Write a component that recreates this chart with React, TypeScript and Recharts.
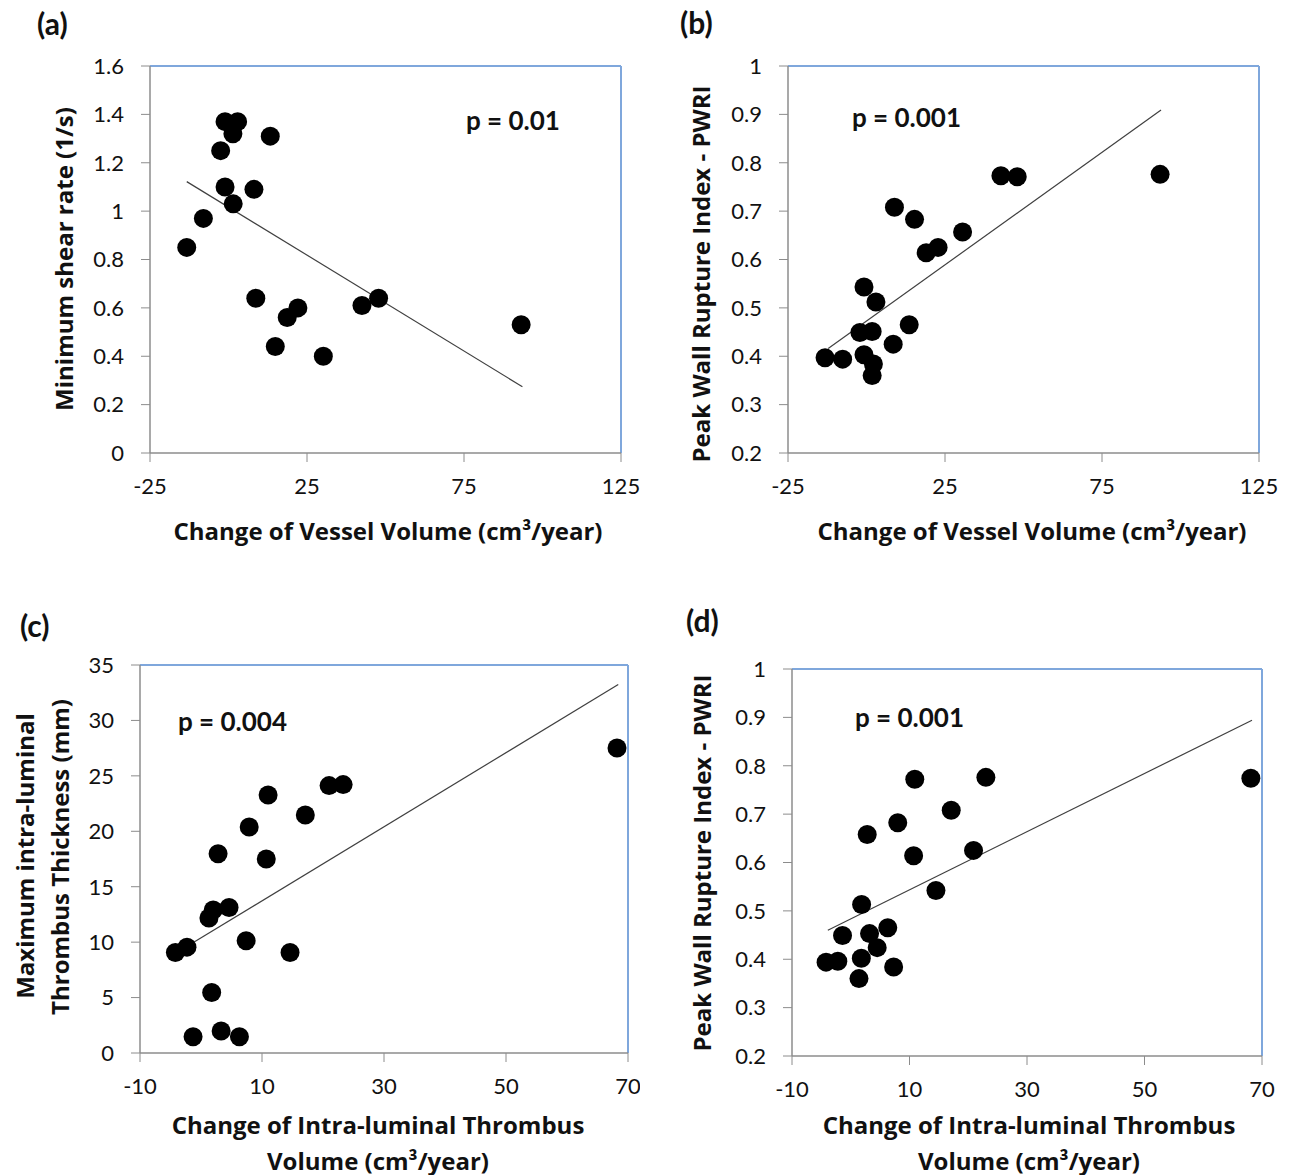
import React from "react";
import { ScatterChart, Scatter, XAxis, YAxis, ReferenceLine } from "recharts";

// tick labels
const VESSEL_TICKS = [-25, 25, 75, 125];
const THROMBUS_TICKS = [-10, 10, 30, 50, 70];
const SHEAR_TICKS = [0, 0.2, 0.4, 0.6, 0.8, 1, 1.2, 1.4, 1.6];
const PWRI_TICKS = [0.2, 0.3, 0.4, 0.5, 0.6, 0.7, 0.8, 0.9, 1];
const ILT_TICKS = [0, 5, 10, 15, 20, 25, 30, 35];

// (a) vessel volume change vs minimum shear rate
const aX = [-13.3, -8.0, -2.5, -1.1, 2.9, 1.4, -1.1, 1.5, 8.1, 13.3, 8.7, 14.9, 18.7, 22.1, 30.2, 42.5, 47.8, 93.2];
const aY = [0.85, 0.97, 1.25, 1.37, 1.37, 1.32, 1.1, 1.03, 1.09, 1.31, 0.64, 0.44, 0.56, 0.6, 0.4, 0.61, 0.64, 0.53];
const aTrendX = [-13.3, 93.6];
const aTrendY = [1.122, 0.274];

// (b) vessel volume change vs PWRI
const bX = [-13.2, -7.6, -0.8, 2.2, 1.8, -2.1, 1.8, 8.5, 13.6, -0.8, 3.0, 8.9, 15.3, 19.0, 22.8, 30.6, 42.8, 48.0, 93.5];
const bY = [0.397, 0.394, 0.403, 0.384, 0.36, 0.449, 0.451, 0.425, 0.465, 0.543, 0.512, 0.708, 0.683, 0.614, 0.625, 0.657, 0.773, 0.771, 0.776];
const bTrendX = [-12.2, 93.8];
const bTrendY = [0.416, 0.909];

// (c) ILT volume change vs max ILT thickness
const cX = [-4.2, -2.3, -1.3, 1.75, 1.3, 2.0, 3.3, 2.8, 4.6, 6.3, 7.4, 7.9, 10.7, 11.0, 14.6, 17.1, 21.0, 23.3, 68.2];
const cY = [9.06, 9.55, 1.47, 5.45, 12.17, 12.9, 1.99, 17.98, 13.13, 1.47, 10.12, 20.39, 17.5, 23.28, 9.06, 21.47, 24.12, 24.21, 27.52];
const cTrendX = [-1.26, 68.4];
const cTrendY = [9.96, 33.24];

// (d) ILT volume change vs PWRI
const dX = [-4.2, -2.2, -1.4, 1.8, 1.4, 1.85, 3.2, 4.5, 6.3, 7.3, 2.8, 8.0, 10.9, 10.7, 14.5, 17.1, 20.9, 23.0, 68.1];
const dY = [0.394, 0.396, 0.449, 0.402, 0.36, 0.513, 0.453, 0.424, 0.465, 0.384, 0.658, 0.682, 0.772, 0.614, 0.542, 0.708, 0.625, 0.776, 0.774];
const dTrendX = [-3.9, 68.3];
const dTrendY = [0.46, 0.894];

const FONT = "Lato, 'Open Sans', sans-serif";
const TITLE_FONT = "'Open Sans', Lato, sans-serif";
const AXIS_GRAY = "#8c8c8c";
const BORDER_BLUE = "#7fa7dc";

type TitleLine = { text: string; x: number; y: number };

type PanelProps = {
  box: { left: number; top: number; width: number; height: number };
  plot: { left: number; top: number; right: number; bottom: number };
  xTicks: number[];
  yTicks: number[];
  xs: number[];
  ys: number[];
  trendX: number[];
  trendY: number[];
  xTitle: TitleLine[];
  yTitle: TitleLine[];
};

const Dot = (props: any) => <circle cx={props.cx} cy={props.cy} r={9.5} fill="#000" />;

function Panel({ box, plot, xTicks, yTicks, xs, ys, trendX, trendY, xTitle, yTitle }: PanelProps) {
  const yAxisWidth = 90;
  const xAxisHeight = 118;
  const margin = {
    top: plot.top - box.top,
    right: box.left + box.width - plot.right,
    bottom: box.top + box.height - plot.bottom - xAxisHeight,
    left: plot.left - box.left - yAxisWidth,
  };
  const data = xs.map((x, i) => ({ x, y: ys[i] }));
  const xMin = xTicks[0];
  const xMax = xTicks[xTicks.length - 1];
  const yMin = yTicks[0];
  const yMax = yTicks[yTicks.length - 1];

  const title = (lines: TitleLine[], rotate: boolean) => () => (
    <g>
      {lines.map((t) => {
        const x = t.x - box.left;
        const y = t.y - box.top;
        return (
          <text
            key={t.text}
            x={x}
            y={y}
            transform={rotate ? `rotate(-90 ${x} ${y})` : undefined}
            textAnchor="middle"
            dominantBaseline="central"
            fontFamily={TITLE_FONT}
            fontWeight={700}
            fontSize={24}
            fill="#111"
          >
            {t.text}
          </text>
        );
      })}
    </g>
  );

  const tickStyle = { fill: "#111", fontSize: 22, fontFamily: FONT };

  return (
    <div style={{ position: "absolute", left: box.left, top: box.top }}>
      <ScatterChart width={box.width} height={box.height} margin={margin}>
        <XAxis
          type="number"
          dataKey="x"
          domain={[xMin, xMax]}
          ticks={xTicks}
          interval={0}
          height={xAxisHeight}
          tickSize={9}
          tickMargin={16}
          tick={tickStyle}
          tickLine={{ stroke: AXIS_GRAY }}
          axisLine={{ stroke: AXIS_GRAY, strokeWidth: 1.5 }}
          allowDataOverflow
          label={title(xTitle, false)}
        />
        <YAxis
          type="number"
          dataKey="y"
          domain={[yMin, yMax]}
          ticks={yTicks}
          interval={0}
          width={yAxisWidth}
          tickSize={9}
          tickMargin={17}
          tick={tickStyle}
          tickLine={{ stroke: AXIS_GRAY }}
          axisLine={{ stroke: AXIS_GRAY, strokeWidth: 1.5 }}
          allowDataOverflow
          label={title(yTitle, true)}
        />
        <ReferenceLine y={yMax} stroke={BORDER_BLUE} strokeWidth={2} />
        <ReferenceLine x={xMax} stroke={BORDER_BLUE} strokeWidth={2} />
        <ReferenceLine
          segment={[
            { x: trendX[0], y: trendY[0] },
            { x: trendX[1], y: trendY[1] },
          ]}
          stroke="#404040"
          strokeWidth={1.2}
        />
        <Scatter data={data} shape={Dot} isAnimationActive={false} />
      </ScatterChart>
    </div>
  );
}

const Note = ({ text, left, top, size }: { text: string; left: number; top: number; size: number }) => (
  <div
    style={{
      position: "absolute",
      left,
      top: top - size / 2,
      fontFamily: FONT,
      fontWeight: 700,
      fontSize: size,
      lineHeight: `${size}px`,
      color: "#111",
      whiteSpace: "nowrap",
    }}
  >
    {text}
  </div>
);

export default function App() {
  return (
    <div style={{ position: "absolute", left: 0, top: 0, width: 1293, height: 1175, background: "#fff" }}>
      <Panel
        box={{ left: 0, top: 40, width: 640, height: 560 }}
        plot={{ left: 150, top: 66, right: 621, bottom: 453 }}
        xTicks={VESSEL_TICKS}
        yTicks={SHEAR_TICKS}
        xs={aX}
        ys={aY}
        trendX={aTrendX}
        trendY={aTrendY}
        xTitle={[{ text: "Change of Vessel Volume (cm³/year)", x: 388, y: 530 }]}
        yTitle={[{ text: "Minimum shear rate (1/s)", x: 63, y: 259 }]}
      />
      <Panel
        box={{ left: 650, top: 40, width: 640, height: 560 }}
        plot={{ left: 788, top: 66, right: 1259, bottom: 453 }}
        xTicks={VESSEL_TICKS}
        yTicks={PWRI_TICKS}
        xs={bX}
        ys={bY}
        trendX={bTrendX}
        trendY={bTrendY}
        xTitle={[{ text: "Change of Vessel Volume (cm³/year)", x: 1032, y: 530 }]}
        yTitle={[{ text: "Peak Wall Rupture Index - PWRI", x: 700, y: 274 }]}
      />
      <Panel
        box={{ left: 0, top: 640, width: 640, height: 535 }}
        plot={{ left: 140, top: 665, right: 628, bottom: 1053 }}
        xTicks={THROMBUS_TICKS}
        yTicks={ILT_TICKS}
        xs={cX}
        ys={cY}
        trendX={cTrendX}
        trendY={cTrendY}
        xTitle={[
          { text: "Change of Intra-luminal Thrombus", x: 378, y: 1124 },
          { text: "Volume (cm³/year)", x: 378, y: 1160 },
        ]}
        yTitle={[
          { text: "Maximum intra-luminal", x: 24, y: 856 },
          { text: "Thrombus Thickness (mm)", x: 59, y: 857 },
        ]}
      />
      <Panel
        box={{ left: 650, top: 640, width: 640, height: 535 }}
        plot={{ left: 792, top: 669, right: 1262, bottom: 1056 }}
        xTicks={THROMBUS_TICKS}
        yTicks={PWRI_TICKS}
        xs={dX}
        ys={dY}
        trendX={dTrendX}
        trendY={dTrendY}
        xTitle={[
          { text: "Change of Intra-luminal Thrombus", x: 1029, y: 1124 },
          { text: "Volume (cm³/year)", x: 1029, y: 1160 },
        ]}
        yTitle={[{ text: "Peak Wall Rupture Index - PWRI", x: 701, y: 863 }]}
      />
      <Note text="(a)" left={37} top={23} size={30} />
      <Note text="(b)" left={680} top={22} size={30} />
      <Note text="(c)" left={20} top={625} size={30} />
      <Note text="(d)" left={686} top={620} size={30} />
      <Note text="p = 0.01" left={466} top={120} size={26} />
      <Note text="p = 0.001" left={852} top={117} size={26} />
      <Note text="p = 0.004" left={178} top={721} size={26} />
      <Note text="p = 0.001" left={855} top={717} size={26} />
    </div>
  );
}
